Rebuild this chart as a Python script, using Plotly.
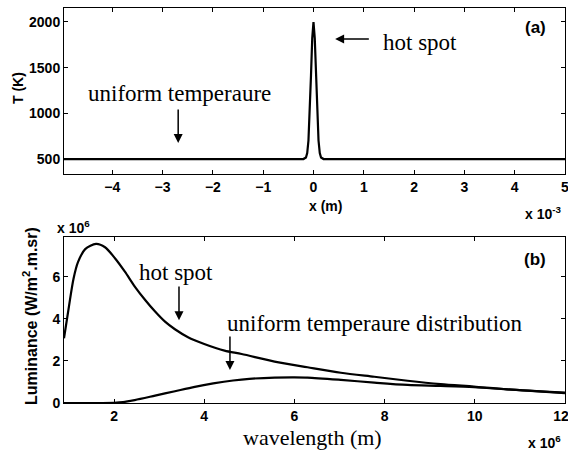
import plotly.graph_objects as go

# ---- data ----
# (a) temperature profile, x in units of 1e-3 m
x_pos = [-4.96, -0.2, -0.15, -0.125, -0.1, -0.075, -0.05, -0.025, 0.0,
         0.025, 0.05, 0.075, 0.1, 0.125, 0.15, 0.2, 5.0]
temp_K = [500, 500, 517, 566, 703, 987, 1410, 1824, 2000,
          1824, 1410, 987, 703, 566, 517, 500, 500]

# (b) luminance, wavelength in units of 1e-6 m, luminance in units of 1e6
wl_hot = [0.89, 1.0, 1.1, 1.2, 1.36, 1.6, 1.8, 2.02, 2.24, 2.46, 2.69, 2.91,
          3.13, 3.35, 3.64, 4.0, 4.45, 4.83, 5.56, 6.29, 7.03, 7.77, 8.51,
          9.24, 9.98, 10.72, 12.0]
lum_hot = [3.08, 4.6, 5.9, 6.7, 7.32, 7.57, 7.41, 6.89, 6.25, 5.54, 4.9, 4.35,
           3.87, 3.51, 3.13, 2.81, 2.49, 2.33, 1.97, 1.70, 1.44, 1.25, 1.06,
           0.90, 0.78, 0.65, 0.49]
wl_uni = [0.89, 1.5, 2.0, 2.2, 2.46, 2.91, 3.35, 3.79, 4.2, 4.64, 5.0, 5.56,
          6.0, 6.29, 7.03, 7.77, 8.51, 9.24, 9.98, 10.72, 12.0]
lum_uni = [0.0, 0.0, 0.01, 0.04, 0.14, 0.35, 0.56, 0.77, 0.93, 1.07, 1.15, 1.21,
           1.22, 1.21, 1.10, 0.97, 0.86, 0.81, 0.75, 0.65, 0.47]

top_xticks = [-4, -3, -2, -1, 0, 1, 2, 3, 4, 5]
top_yticks = [500, 1000, 1500, 2000]
bot_xticks = [2, 4, 6, 8, 10, 12]
bot_xticktext = ["2", "4", "6", "8", "10", "12\u00a0\u00a0"]
bot_yticks = [0, 2, 4, 6]

SANS = "Liberation Sans"
SERIF = "Liberation Serif"

fig = go.Figure()
fig.add_trace(go.Scatter(x=x_pos, y=temp_K, mode="lines",
                         line=dict(color="black", width=2.2),
                         xaxis="x", yaxis="y", showlegend=False))
fig.add_trace(go.Scatter(x=wl_hot, y=lum_hot, mode="lines",
                         line=dict(color="black", width=2.2, shape="spline", smoothing=0.8),
                         xaxis="x2", yaxis="y2", showlegend=False))
fig.add_trace(go.Scatter(x=wl_uni, y=lum_uni, mode="lines",
                         line=dict(color="black", width=2.2, shape="spline", smoothing=0.8),
                         xaxis="x2", yaxis="y2", showlegend=False))

tickfont = dict(family=SANS, size=14, color="black", weight="bold")
common = dict(showline=True, linecolor="black", linewidth=1, mirror="allticks",
              ticks="inside", ticklen=4, tickcolor="black", showgrid=False,
              zeroline=False, tickfont=tickfont, automargin=False,
              ticklabeloverflow="allow")

W, H = 568, 450
L, R, T, B = 64, 3, 8, 47

fig.update_layout(
    width=W, height=H,
    margin=dict(l=L, r=R, t=T, b=B),
    paper_bgcolor="white", plot_bgcolor="white",
    xaxis=dict(domain=[0, 1], anchor="y", range=[-4.96, 5], tickvals=top_xticks, **common),
    yaxis=dict(domain=[0.5797, 1], anchor="x", range=[336, 2153], tickvals=top_yticks, **common),
    xaxis2=dict(domain=[0, 1], anchor="y2", range=[0.89, 12], tickvals=bot_xticks,
                ticktext=bot_xticktext, **common),
    yaxis2=dict(domain=[0, 0.4203], anchor="x2", range=[0, 7.9], tickvals=bot_yticks, **common),
)

ann_serif = dict(family=SERIF, size=23, color="black")
ann_bold = dict(family=SANS, size=17, color="black", weight="bold")
exp_font = dict(family=SANS, size=14, color="black", weight="bold")
title_font = dict(family=SANS, size=14, color="black", weight="bold")

arrow = dict(text="", showarrow=True, arrowhead=2, arrowsize=1.2, arrowwidth=1.5,
             arrowcolor="black")

# pixel-placed labels (axis titles and exponent labels), converted to paper coords below
pixel_labels = [
    dict(x=18, y=88, text="T (K)", textangle=-90, font=title_font),
    dict(x=325, y=206, text="x (m)", font=title_font),
    dict(x=30, y=316, text="Luminance (W/m<sup>2</sup>.m.sr)", textangle=-90,
         font=dict(family=SANS, size=16, color="black", weight="bold")),
    dict(x=312, y=437, text="wavelength (m)", font=dict(family=SERIF, size=22, color="black")),
    dict(x=543, y=213, text="x 10<sup>-3</sup>", font=exp_font),
    dict(x=544, y=442, text="x 10<sup>6</sup>", font=exp_font),
    dict(x=73, y=227, text="x 10<sup>6</sup>", font=exp_font),
]
annotations = []
for a in pixel_labels:
    a = dict(a)
    a["x"] = (a["x"] - L) / (W - L - R)
    a["y"] = (H - B - a["y"]) / (H - T - B)
    a.update(xref="paper", yref="paper", showarrow=False,
             xanchor="center", yanchor="middle")
    annotations.append(a)

annotations += [
    # panel (a)
    dict(x=-2.67, y=1222, xref="x", yref="y", text="uniform temperaure",
         showarrow=False, font=ann_serif),
    dict(x=-2.69, y=675, ax=-2.69, ay=1058, xref="x", yref="y", axref="x", ayref="y", **arrow),
    dict(x=2.12, y=1770, xref="x", yref="y", text="hot spot", showarrow=False, font=ann_serif),
    dict(x=0.43, y=1814, ax=1.13, ay=1814, xref="x", yref="y", axref="x", ayref="y", **arrow),
    dict(x=4.41, y=1945, xref="x", yref="y", text="(a)", showarrow=False, font=ann_bold),
    # panel (b)
    dict(x=3.37, y=6.22, xref="x2", yref="y2", text="hot spot", showarrow=False, font=ann_serif),
    dict(x=3.44, y=3.94, ax=3.44, ay=5.61, xref="x2", yref="y2", axref="x2", ayref="y2", **arrow),
    dict(x=7.79, y=3.80, xref="x2", yref="y2", text="uniform temperaure distribution",
         showarrow=False, font=ann_serif),
    dict(x=4.57, y=1.57, ax=4.57, ay=3.23, xref="x2", yref="y2", axref="x2", ayref="y2", **arrow),
    dict(x=11.33, y=6.84, xref="x2", yref="y2", text="(b)", showarrow=False, font=ann_bold),
]
fig.update_layout(annotations=annotations)

fig.write_html("out.html",
               config={"displayModeBar": False},
               post_script="document.body.style.margin='0';"
                           "document.body.style.overflow='hidden';")
